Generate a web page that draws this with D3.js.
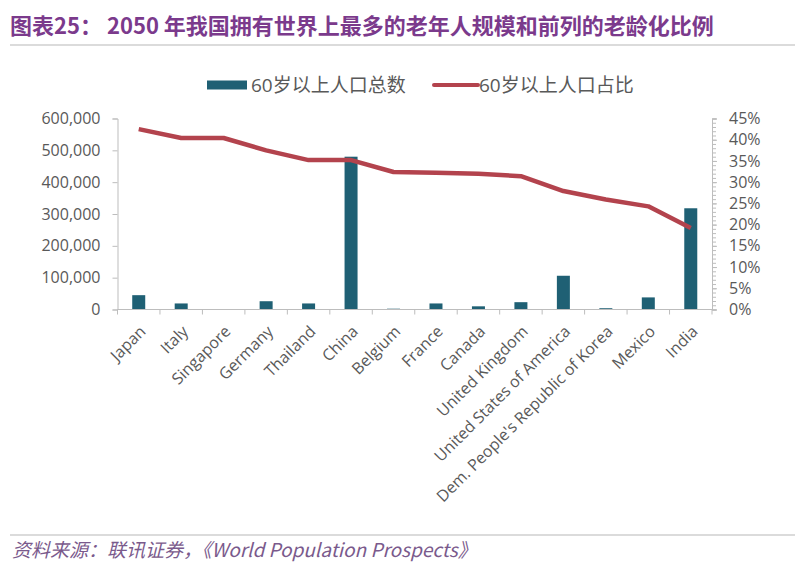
<!DOCTYPE html>
<html><head><meta charset="utf-8">
<script src="https://cdn.jsdelivr.net/npm/d3@7"></script>
<style>body{margin:0;background:#fff}svg{display:block}</style>
</head><body><svg id="c" width="800" height="572"></svg>
<script>
const countries = ["Japan","Italy","Singapore","Germany","Thailand","China","Belgium","France","Canada","United Kingdom","United States of America","Dem. People's Republic of Korea","Mexico","India"];
const totals = [45000,19000,1500,26000,19000,480000,2500,19000,10000,23000,106000,4000,38000,318000];
const shares = [42.5,40.4,40.4,37.5,35.2,35.2,32.4,32.2,32.0,31.4,27.9,25.9,24.3,19.2];
const leftTicks = [0,100000,200000,300000,400000,500000,600000];
const rightTicks = [0,5,10,15,20,25,30,35,40,45];
const seriesNames = ["60岁以上人口总数","60岁以上人口占比"];
const title = "图表25：  2050 年我国拥有世界上最多的老年人规模和前列的老龄化比例";
const source = "资料来源：联讯证券，《World Population Prospects》";

const svg = d3.select("#c");
const font = "'Open Sans', 'Noto Sans CJK SC', sans-serif";
const L = 117.5, R = 712, T = 118.5, B = 309.5;
const axisColor = "#bdbdbd", textColor = "#595959";

svg.append("text").attr("x",10).attr("y",34).attr("fill","#7b3a8c")
  .attr("font-family","'Noto Sans CJK SC', sans-serif").attr("font-weight","bold").attr("font-size",22)
  .text(title);
svg.append("line").attr("x1",10).attr("x2",795).attr("y1",45).attr("y2",45).attr("stroke","#cfcfcf").attr("stroke-width",1.5);

// legend
svg.append("rect").attr("x",207).attr("y",80.5).attr("width",40).attr("height",9).attr("fill","#1f6074");
svg.append("text").attr("x",251).attr("y",92).attr("fill",textColor).attr("font-family",font).attr("font-size",19).text(seriesNames[0]);
svg.append("line").attr("x1",434).attr("x2",478).attr("y1",85).attr("y2",85).attr("stroke","#b3434d").attr("stroke-width",4).attr("stroke-linecap","round");
svg.append("text").attr("x",479).attr("y",92).attr("fill",textColor).attr("font-family",font).attr("font-size",19).text(seriesNames[1]);

const x = d3.scaleBand().domain(countries).range([L,R]);
const yL = d3.scaleLinear().domain([0,600000]).range([B,T]);
const yR = d3.scaleLinear().domain([0,45]).range([B,T]);

// left axis
const gL = svg.append("g").attr("transform",`translate(${L},0)`)
  .call(d3.axisLeft(yL).tickValues(leftTicks).tickSize(5).tickPadding(12).tickFormat(d3.format(",")));
gL.selectAll("path,line").attr("stroke",axisColor);
gL.selectAll("text").attr("fill",textColor).attr("font-family",font).attr("font-size",16);

// right axis minor
const gRm = svg.append("g").attr("transform",`translate(${R},0)`)
  .call(d3.axisRight(yR).tickValues(d3.range(0,46,1)).tickSize(4).tickFormat(""));
gRm.selectAll("path,line").attr("stroke",axisColor);
const gR = svg.append("g").attr("transform",`translate(${R},0)`)
  .call(d3.axisRight(yR).tickValues(rightTicks).tickSize(5).tickPadding(12).tickFormat(d=>d+"%"));
gR.selectAll("path,line").attr("stroke",axisColor);
gR.selectAll("text").attr("fill",textColor).attr("font-family",font).attr("font-size",16);

// bars
svg.append("g").selectAll("rect").data(countries).join("rect")
  .attr("x",d=>x(d)+x.bandwidth()/2-6.5).attr("width",13)
  .attr("y",(d,i)=>yL(totals[i])).attr("height",(d,i)=>B-yL(totals[i]))
  .attr("fill","#1f6074");

// x axis
const gX = svg.append("g").attr("transform",`translate(0,${B})`)
  .call(d3.axisBottom(x).tickSize(0).tickFormat(""));
gX.select("path").attr("stroke",axisColor).attr("d",`M${L},0H${R}`);
svg.append("g").selectAll("line").data(d3.range(countries.length+1)).join("line")
  .attr("x1",i=>L+i*x.step()).attr("x2",i=>L+i*x.step()).attr("y1",B).attr("y2",B+5).attr("stroke",axisColor);
svg.append("g").selectAll("text").data(countries).join("text")
  .attr("transform",d=>`translate(${x(d)+x.bandwidth()/2+4},${B+19}) rotate(-45)`)
  .attr("text-anchor","end").attr("fill",textColor).attr("font-family",font).attr("font-size",16)
  .attr("dy","0.35em").text(d=>d);

// line
const line = d3.line().x((d,i)=>x(countries[i])+x.bandwidth()/2).y(d=>yR(d));
svg.append("path").datum(shares).attr("d",line).attr("fill","none").attr("stroke","#b3434d")
  .attr("stroke-width",4.5).attr("stroke-linejoin","round");

// footer
svg.append("line").attr("x1",10).attr("x2",795).attr("y1",535).attr("y2",535).attr("stroke","#cfcfcf").attr("stroke-width",1.5);
svg.append("text").attr("x",12).attr("y",557).attr("fill","#7a5a8c").attr("font-style","italic")
  .attr("font-family","'Liberation Sans Narrow','Noto Sans CJK SC', sans-serif").attr("font-size",19).text(source);
</script></body></html>
